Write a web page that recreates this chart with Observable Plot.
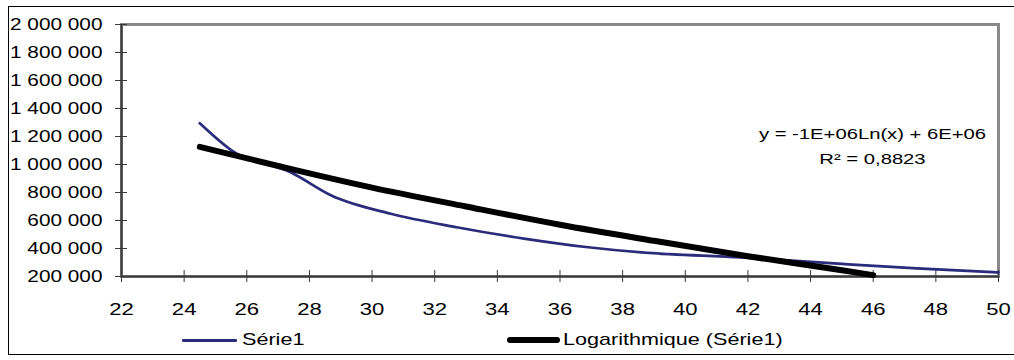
<!DOCTYPE html>
<html>
<head>
<meta charset="utf-8">
<script src="https://cdn.jsdelivr.net/npm/d3@7"></script>
<script src="https://cdn.jsdelivr.net/npm/@observablehq/plot@0.6"></script>
<style>
  html, body { margin: 0; padding: 0; background: #fff; }
  #wrap { position: relative; width: 1014px; height: 360px; overflow: hidden; background: #fff; }
  #box { position: absolute; left: 8px; top: 6px; width: 1012px; height: 349px; border: 1.5px solid #000; box-sizing: border-box; }
  #chart { position: absolute; left: 0; top: 0; }
  #chart svg g[aria-label="x-axis tick label"] { font-size: 17px; }
  #chart svg g[aria-label="y-axis tick label"] { font-size: 16px; }
  .leg { position: absolute; top: 329px; height: 22px; display: flex; align-items: center;
         font-family: "Liberation Sans", Arial, sans-serif; font-size: 17px; color: #000; }
  .sw { display: inline-block; }
  .lt { display: inline-block; transform: scaleX(1.27); transform-origin: left center; white-space: nowrap; }
</style>
</head>
<body>
<div id="wrap">
  <div id="box"></div>
  <div id="chart"></div>
  <div class="leg" id="leg1" style="left:182px"></div>
  <div class="leg" id="leg2" style="left:507px"></div>
</div>
<script>
// ---- data ----
const xTicks = [22, 24, 26, 28, 30, 32, 34, 36, 38, 40, 42, 44, 46, 48, 50];
const yTicks = [200000, 400000, 600000, 800000, 1000000, 1200000, 1400000, 1600000, 1800000, 2000000];

const serieName = "Série1";
const serieX = [24.5, 25.6, 27.4, 28.7, 30.6, 32.7, 34.9, 36.9, 38.6, 41.8, 45.0, 47.4, 50];
const serieY = [1295000, 1088000, 945000, 779000, 648000, 552000, 469000, 409000, 372000, 336000, 290000, 258000, 229000];

const trendName = "Logarithmique (Série1)";
const trendX = [24.5, 27, 30, 33, 36, 39, 42, 45, 46.0];
const trendY = [1126000, 990000, 835000, 700000, 570000, 455000, 345000, 245000, 210000];

const equationText = "y = -1E+06Ln(x) + 6E+06";
const r2Text = "R² = 0,8823";

// ---- build ----
const serie = serieX.map((x, i) => ({x, y: serieY[i]}));
const trend = trendX.map((x, i) => ({x, y: trendY[i]}));
const fr = d3.formatLocale({decimal: ",", thousands: " ", grouping: [3], currency: ["", ""]});
const fmt = fr.format(",.0f");

const BLUE = "#2b2b7c";
const AXIS = "#3a3a3a";

const chart = Plot.plot({
  width: 1014,
  height: 322,
  marginLeft: 121,
  marginRight: 16,
  marginTop: 24,
  marginBottom: 46,
  x: {domain: [22, 50]},
  y: {domain: [200000, 2000000]},
  style: {fontFamily: "'Liberation Sans', Arial, sans-serif", fontSize: "15px", color: "#000", background: "transparent", overflow: "visible"},
  marks: [
    Plot.frame({stroke: "#8a8a8a", strokeWidth: 3}),
    Plot.ruleX([22], {stroke: AXIS, strokeWidth: 2}),
    Plot.ruleY([200000], {stroke: AXIS, strokeWidth: 2}),
    Plot.axisY({ticks: yTicks, tickSize: 6, tickPadding: 13, tickFormat: fmt, label: null, stroke: AXIS, fill: "#000"}),
    Plot.axisY({ticks: yTicks, tickSize: 6, dx: 6, tickFormat: () => "", label: null, stroke: AXIS}),
    Plot.axisX({ticks: xTicks, tickSize: 6, tickPadding: 20, label: null, stroke: AXIS, fill: "#000"}),
    Plot.axisX({ticks: xTicks, tickSize: 6, dy: -6, tickFormat: () => "", label: null, stroke: AXIS}),
    Plot.line(serie, {x: "x", y: "y", stroke: BLUE, strokeWidth: 2.7, curve: "monotone-x"}),
    Plot.line(trend, {x: "x", y: "y", stroke: "#000", strokeWidth: 6, strokeLinecap: "round", curve: "monotone-x"}),
    Plot.text([equationText + "\n" + r2Text], {
      frameAnchor: "top-right", dx: -126, dy: 96, textAnchor: "middle", lineAnchor: "top",
      lineHeight: 1.7, fontSize: 15, fill: "#000"
    })
  ]
});
document.getElementById("chart").appendChild(chart);

// horizontally stretch every text (the reference's lettering is widened);
// scaling about each text's own anchor point keeps its position
chart.querySelectorAll("text").forEach(t => {
  const g = t.closest("g[aria-label]");
  const lab = g ? g.getAttribute("aria-label") : "";
  const s = lab === "y-axis tick label" ? 1.3 : lab === "x-axis tick label" ? 1.3 : 1.35;
  const tr = t.getAttribute("transform") || "";
  t.setAttribute("transform", `${tr} scale(${s},1)`.trim());
});

// legend
function legendItem(el, color, thick, label) {
  el.innerHTML = `<span class="sw" style="width:${thick > 4 ? 53 : 55}px;height:${thick}px;background:${color};border-radius:${thick > 4 ? 3 : 1}px;margin-right:${thick > 4 ? 3 : 5}px"></span><span class="lt">${label}</span>`;
}
legendItem(document.getElementById("leg1"), BLUE, 3, serieName);
legendItem(document.getElementById("leg2"), "#000", 6, trendName);
</script>
</body>
</html>
